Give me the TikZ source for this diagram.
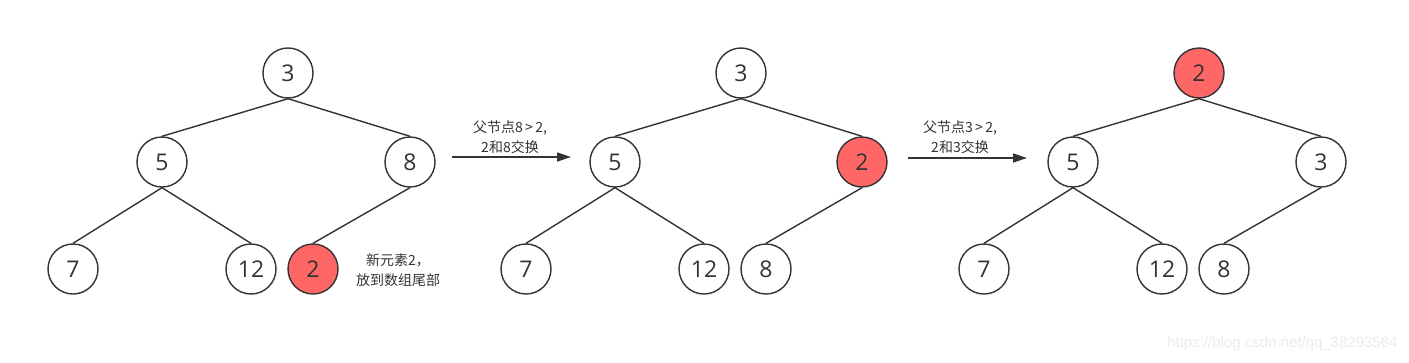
\documentclass[tikz,border=0pt]{standalone}
\usepackage{fontspec}
\setmainfont{Open Sans}
\newfontfamily\cjk{Noto Sans CJK SC}
\newfontfamily\wm{Liberation Sans}
\usetikzlibrary{arrows.meta}
\definecolor{edge}{HTML}{333333}
\definecolor{hot}{HTML}{FF6666}
\definecolor{wmc}{HTML}{EBEBEB}
\tikzset{
  tnode/.style={circle, draw=edge, line width=1.4pt, minimum size=50pt, inner sep=0pt, fill=white, font=\fontsize{23}{23}\selectfont, text=edge},
  hotnode/.style={tnode, fill=hot},
  tedge/.style={draw=edge, line width=1.4pt},
  stepnote/.style={font=\cjk\fontsize{14}{20}\selectfont, align=center, text=edge},
  steparrow/.style={draw=edge, line width=1.4pt, -{Triangle[length=14pt,width=9pt]}}
}
\begin{document}
\begin{tikzpicture}[x=1pt,y=-1pt]
\useasboundingbox (0,0) rectangle (1409,362);
% tree 1
\node[tnode] (a1) at (288,73) {3};
\node[tnode] (a2) at (162,162) {5};
\node[tnode] (a3) at (410,162) {8};
\node[tnode] (a4) at (73,269) {7};
\node[tnode] (a5) at (251,269) {12};
\node[hotnode] (a6) at (313,269) {2};
\draw[tedge] (a1.south) -- (a2.north);
\draw[tedge] (a1.south) -- (a3.north);
\draw[tedge] (a2.south) -- (a4.north);
\draw[tedge] (a2.south) -- (a5.north);
\draw[tedge] (a3.south) -- (a6.north);
\node[stepnote] (n1) at (398,270) {新元素2，\\放到数组尾部};
% arrow 1
\coordinate (p1) at (452,157);
\coordinate (q1) at (571,157);
\draw[steparrow] (p1) -- (q1);
\node[stepnote] (t1) at (510,137) {父节点8\,>\,2,\\2和8交换};
% tree 2
\node[tnode] (b1) at (741,73) {3};
\node[tnode] (b2) at (615,162) {5};
\node[hotnode] (b3) at (862,162) {2};
\node[tnode] (b4) at (526,269) {7};
\node[tnode] (b5) at (704,269) {12};
\node[tnode] (b6) at (766,269) {8};
\draw[tedge] (b1.south) -- (b2.north);
\draw[tedge] (b1.south) -- (b3.north);
\draw[tedge] (b2.south) -- (b4.north);
\draw[tedge] (b2.south) -- (b5.north);
\draw[tedge] (b3.south) -- (b6.north);
% arrow 2
\coordinate (p2) at (908,158);
\coordinate (q2) at (1027,158);
\draw[steparrow] (p2) -- (q2);
\node[stepnote] (t2) at (960,137) {父节点3\,>\,2,\\2和3交换};
% tree 3
\node[hotnode] (c1) at (1199,73) {2};
\node[tnode] (c2) at (1073,162) {5};
\node[tnode] (c3) at (1321,162) {3};
\node[tnode] (c4) at (984,269) {7};
\node[tnode] (c5) at (1162,269) {12};
\node[tnode] (c6) at (1224,269) {8};
\draw[tedge] (c1.south) -- (c2.north);
\draw[tedge] (c1.south) -- (c3.north);
\draw[tedge] (c2.south) -- (c4.north);
\draw[tedge] (c2.south) -- (c5.north);
\draw[tedge] (c3.south) -- (c6.north);
% watermark
\node[font=\wm\fontsize{15}{15}\selectfont, text=wmc, anchor=east] (wm) at (1401,344) {https://blog.csdn.net/qq\_38293564};
\end{tikzpicture}
\end{document}
